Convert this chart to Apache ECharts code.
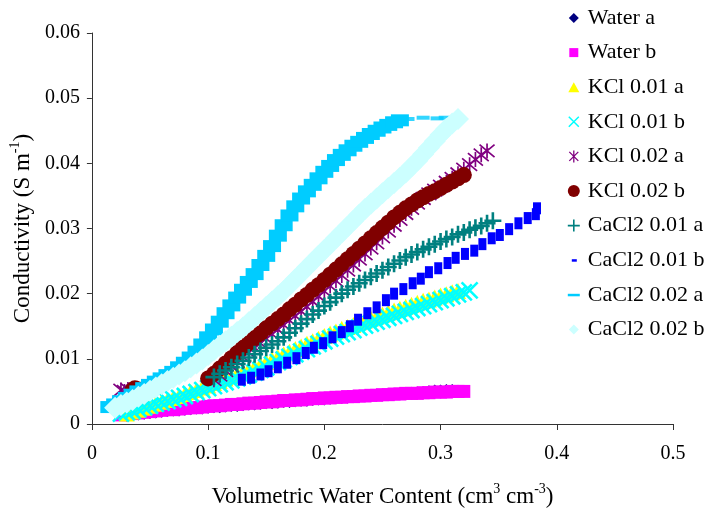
<!DOCTYPE html>
<html>
<head>
<meta charset="utf-8">
<script src="https://cdn.jsdelivr.net/npm/echarts@6/dist/echarts.min.js"></script>
<style>
  html, body { margin: 0; padding: 0; background: #fff; }
  #chart { width: 705px; height: 520px; }
</style>
</head>
<body>
<div id="chart"></div>
<script>
// Conductivity (S m-1) against volumetric water content, one array per solution/replicate.
const waterA = [
  [0.030,0.0012],[0.035,0.0013],[0.040,0.0014],[0.045,0.0015],[0.050,0.0016],[0.055,0.0017],
  [0.060,0.0018],[0.065,0.0019],[0.070,0.0020],[0.075,0.0020],[0.080,0.0021],[0.085,0.0022],
  [0.090,0.0023],[0.095,0.0023],[0.100,0.0024],[0.105,0.0025],[0.110,0.0025],[0.115,0.0026],
  [0.120,0.0027],[0.125,0.0027],[0.130,0.0028],[0.135,0.0029],[0.140,0.0029],[0.145,0.0030],
  [0.150,0.0031],[0.155,0.0031],[0.160,0.0032],[0.165,0.0033],[0.170,0.0033],[0.175,0.0034],
  [0.180,0.0035],[0.185,0.0035],[0.190,0.0036],[0.195,0.0037],[0.200,0.0037],[0.205,0.0038],
  [0.210,0.0039],[0.215,0.0039],[0.220,0.0040],[0.225,0.0041],[0.230,0.0041],[0.235,0.0042],
  [0.240,0.0043],[0.245,0.0043],[0.250,0.0044],[0.255,0.0045],[0.260,0.0045],[0.265,0.0046],
  [0.270,0.0047],[0.275,0.0048],[0.280,0.0049],[0.285,0.0050],[0.290,0.0051],[0.295,0.0052],
  [0.300,0.0052],[0.305,0.0053],[0.310,0.0053]
];
const waterB = [
  [0.025,0.0014],[0.030,0.0015],[0.035,0.0016],[0.040,0.0017],[0.045,0.0018],[0.050,0.0019],
  [0.055,0.0020],[0.060,0.0021],[0.065,0.0022],[0.070,0.0022],[0.075,0.0023],[0.080,0.0024],
  [0.085,0.0025],[0.090,0.0025],[0.095,0.0026],[0.100,0.0027],[0.105,0.0028],[0.110,0.0028],
  [0.115,0.0029],[0.120,0.0030],[0.125,0.0030],[0.130,0.0031],[0.135,0.0032],[0.140,0.0032],
  [0.145,0.0033],[0.150,0.0034],[0.155,0.0034],[0.160,0.0035],[0.165,0.0036],[0.170,0.0036],
  [0.175,0.0037],[0.180,0.0037],[0.185,0.0038],[0.190,0.0039],[0.195,0.0039],[0.200,0.0040],
  [0.205,0.0040],[0.210,0.0041],[0.215,0.0041],[0.220,0.0042],[0.225,0.0042],[0.230,0.0043],
  [0.235,0.0043],[0.240,0.0044],[0.245,0.0044],[0.250,0.0045],[0.255,0.0045],[0.260,0.0046],
  [0.265,0.0046],[0.270,0.0047],[0.275,0.0047],[0.280,0.0047],[0.285,0.0048],[0.290,0.0048],
  [0.295,0.0049],[0.300,0.0049],[0.305,0.0049],[0.310,0.0050],[0.315,0.0050],[0.320,0.0050]
];
const kcl001a = [
  [0.030,0.0016],[0.035,0.0019],[0.040,0.0022],[0.045,0.0025],[0.050,0.0028],[0.055,0.0031],
  [0.060,0.0034],[0.065,0.0037],[0.070,0.0040],[0.075,0.0043],[0.080,0.0046],[0.085,0.0049],
  [0.090,0.0052],[0.095,0.0056],[0.100,0.0059],[0.105,0.0063],[0.110,0.0066],[0.115,0.0070],
  [0.120,0.0073],[0.125,0.0077],[0.130,0.0080],[0.135,0.0084],[0.140,0.0087],[0.145,0.0091],
  [0.150,0.0095],[0.155,0.0099],[0.160,0.0103],[0.165,0.0107],[0.170,0.0111],[0.175,0.0115],
  [0.180,0.0119],[0.185,0.0123],[0.190,0.0127],[0.195,0.0131],[0.200,0.0135],[0.205,0.0139],
  [0.210,0.0142],[0.215,0.0146],[0.220,0.0149],[0.225,0.0152],[0.230,0.0156],[0.235,0.0159],
  [0.240,0.0162],[0.245,0.0165],[0.250,0.0168],[0.255,0.0171],[0.260,0.0174],[0.265,0.0177],
  [0.270,0.0180],[0.275,0.0183],[0.280,0.0186],[0.285,0.0189],[0.290,0.0191],[0.295,0.0194],
  [0.300,0.0197],[0.305,0.0199],[0.310,0.0202],[0.315,0.0204]
];
const kcl001b = [
  [0.025,0.0016],[0.030,0.0018],[0.035,0.0020],[0.040,0.0023],[0.045,0.0026],[0.050,0.0028],
  [0.055,0.0031],[0.060,0.0033],[0.065,0.0035],[0.070,0.0038],[0.075,0.0040],[0.080,0.0043],
  [0.085,0.0046],[0.090,0.0049],[0.095,0.0052],[0.100,0.0055],[0.105,0.0058],[0.110,0.0061],
  [0.115,0.0064],[0.120,0.0067],[0.125,0.0070],[0.130,0.0073],[0.135,0.0076],[0.140,0.0079],
  [0.145,0.0083],[0.150,0.0087],[0.155,0.0091],[0.160,0.0095],[0.165,0.0099],[0.170,0.0103],
  [0.175,0.0107],[0.180,0.0111],[0.185,0.0115],[0.190,0.0119],[0.195,0.0123],[0.200,0.0127],
  [0.205,0.0131],[0.210,0.0134],[0.215,0.0138],[0.220,0.0141],[0.225,0.0144],[0.230,0.0148],
  [0.235,0.0151],[0.240,0.0154],[0.245,0.0157],[0.250,0.0160],[0.255,0.0163],[0.260,0.0166],
  [0.265,0.0169],[0.270,0.0172],[0.275,0.0175],[0.280,0.0178],[0.285,0.0181],[0.290,0.0184],
  [0.295,0.0187],[0.300,0.0190],[0.305,0.0193],[0.310,0.0196],[0.315,0.0199],[0.320,0.0202],
  [0.325,0.0205]
];
const kcl002a = [
  [0.025,0.0052],[0.028,0.0050],[0.031,0.0053],
  [0.105,0.0068],[0.110,0.0075],[0.115,0.0082],[0.120,0.0089],[0.125,0.0096],[0.130,0.0103],
  [0.135,0.0110],[0.140,0.0117],[0.145,0.0124],[0.150,0.0131],[0.155,0.0138],[0.160,0.0145],
  [0.165,0.0152],[0.170,0.0159],[0.175,0.0166],[0.180,0.0173],[0.185,0.0180],[0.190,0.0188],
  [0.195,0.0196],[0.200,0.0204],[0.205,0.0212],[0.210,0.0220],[0.215,0.0228],[0.220,0.0236],
  [0.225,0.0244],[0.230,0.0253],[0.235,0.0261],[0.240,0.0270],[0.245,0.0278],[0.250,0.0287],
  [0.255,0.0296],[0.260,0.0305],[0.265,0.0314],[0.270,0.0323],[0.275,0.0331],[0.280,0.0339],
  [0.285,0.0346],[0.290,0.0353],[0.295,0.0359],[0.300,0.0365],[0.305,0.0371],[0.310,0.0377],
  [0.315,0.0384],[0.320,0.0391],[0.325,0.0398],[0.330,0.0406],[0.335,0.0413],[0.340,0.0419]
];
const kcl002b = [
  [0.035,0.0052],[0.037,0.0055],[0.040,0.0053],
  [0.100,0.0070],[0.105,0.0077],[0.110,0.0085],[0.115,0.0093],[0.120,0.0101],[0.125,0.0109],
  [0.130,0.0117],[0.135,0.0124],[0.140,0.0132],[0.145,0.0139],[0.150,0.0147],[0.155,0.0154],
  [0.160,0.0161],[0.165,0.0168],[0.170,0.0176],[0.175,0.0183],[0.180,0.0191],[0.185,0.0198],
  [0.190,0.0206],[0.195,0.0213],[0.200,0.0221],[0.205,0.0229],[0.210,0.0237],[0.215,0.0245],
  [0.220,0.0253],[0.225,0.0261],[0.230,0.0269],[0.235,0.0277],[0.240,0.0285],[0.245,0.0293],
  [0.250,0.0301],[0.255,0.0309],[0.260,0.0317],[0.265,0.0324],[0.270,0.0331],[0.275,0.0337],
  [0.280,0.0343],[0.285,0.0348],[0.290,0.0353],[0.295,0.0357],[0.300,0.0362],[0.305,0.0367],
  [0.310,0.0372],[0.315,0.0377],[0.320,0.0382]
];
const cacl2001a = [
  [0.105,0.0072],[0.110,0.0077],[0.115,0.0082],[0.120,0.0087],[0.125,0.0092],[0.130,0.0097],
  [0.135,0.0102],[0.140,0.0107],[0.145,0.0112],[0.150,0.0117],[0.155,0.0122],[0.160,0.0127],
  [0.165,0.0133],[0.170,0.0140],[0.175,0.0147],[0.180,0.0154],[0.185,0.0161],[0.190,0.0168],
  [0.195,0.0174],[0.200,0.0181],[0.205,0.0187],[0.210,0.0194],[0.215,0.0200],[0.220,0.0206],
  [0.225,0.0211],[0.230,0.0216],[0.235,0.0221],[0.240,0.0226],[0.245,0.0231],[0.250,0.0236],
  [0.255,0.0241],[0.260,0.0246],[0.265,0.0251],[0.270,0.0256],[0.275,0.0260],[0.280,0.0264],
  [0.285,0.0268],[0.290,0.0272],[0.295,0.0276],[0.300,0.0280],[0.305,0.0284],[0.310,0.0287],
  [0.315,0.0291],[0.320,0.0294],[0.325,0.0298],[0.330,0.0301],[0.335,0.0304],[0.340,0.0308],
  [0.345,0.0312]
];
const cacl2001b = [
  [0.129,0.0068],[0.137,0.0071],[0.145,0.0076],[0.152,0.0081],[0.160,0.0087],[0.168,0.0094],
  [0.176,0.0101],[0.184,0.0109],[0.191,0.0117],[0.199,0.0124],[0.207,0.0133],[0.215,0.0141],
  [0.222,0.0150],[0.229,0.0160],[0.237,0.0170],[0.245,0.0179],[0.253,0.0190],[0.260,0.0200],
  [0.268,0.0207],[0.276,0.0216],[0.283,0.0223],[0.290,0.0233],[0.298,0.0239],[0.306,0.0247],
  [0.313,0.0255],[0.321,0.0261],[0.329,0.0266],[0.336,0.0276],[0.344,0.0285],[0.351,0.0290],
  [0.359,0.0299],[0.367,0.0308],[0.375,0.0316],[0.382,0.0322],[0.383,0.0331]
];
const cacl2002a = [
  [0.015,0.0026],[0.020,0.0030],[0.025,0.0035],[0.030,0.0040],[0.035,0.0045],[0.040,0.0050],
  [0.045,0.0055],[0.050,0.0060],[0.055,0.0065],[0.060,0.0070],[0.065,0.0075],[0.070,0.0080],
  [0.075,0.0087],[0.080,0.0094],[0.085,0.0102],[0.090,0.0111],[0.095,0.0122],[0.100,0.0133],
  [0.105,0.0145],[0.110,0.0157],[0.115,0.0170],[0.120,0.0182],[0.125,0.0194],[0.130,0.0206],
  [0.135,0.0218],[0.140,0.0230],[0.145,0.0244],[0.150,0.0258],[0.155,0.0273],[0.160,0.0289],
  [0.165,0.0305],[0.170,0.0320],[0.175,0.0334],[0.180,0.0346],[0.185,0.0357],[0.190,0.0367],
  [0.195,0.0377],[0.200,0.0387],[0.205,0.0396],[0.210,0.0405],[0.215,0.0413],[0.220,0.0420],
  [0.225,0.0427],[0.230,0.0433],[0.235,0.0439],[0.240,0.0445],[0.245,0.0450],[0.250,0.0455],
  [0.255,0.0459],[0.260,0.0463],[0.265,0.0466]
];
// Sparse readings along the plateau, drawn as separate dashes
const cacl2002aTop = [
  [0.272,0.0468],[0.285,0.0470],[0.297,0.0469],[0.304,0.0470]
];
const cacl2002b = [
  [0.020,0.0025],[0.025,0.0029],[0.030,0.0033],[0.035,0.0037],[0.040,0.0042],[0.045,0.0046],
  [0.050,0.0051],[0.055,0.0056],[0.060,0.0061],[0.065,0.0066],[0.070,0.0071],[0.075,0.0076],
  [0.080,0.0081],[0.085,0.0087],[0.090,0.0093],[0.095,0.0099],[0.100,0.0106],[0.105,0.0113],
  [0.110,0.0120],[0.115,0.0127],[0.120,0.0134],[0.125,0.0141],[0.130,0.0148],[0.135,0.0156],
  [0.140,0.0164],[0.145,0.0172],[0.150,0.0180],[0.155,0.0188],[0.160,0.0196],[0.165,0.0204],
  [0.170,0.0213],[0.175,0.0222],[0.180,0.0231],[0.185,0.0240],[0.190,0.0249],[0.195,0.0258],
  [0.200,0.0267],[0.205,0.0276],[0.210,0.0285],[0.215,0.0294],[0.220,0.0303],[0.225,0.0312],
  [0.230,0.0321],[0.235,0.0330],[0.240,0.0338],[0.245,0.0346],[0.250,0.0354],[0.255,0.0362],
  [0.260,0.0370],[0.265,0.0378],[0.270,0.0386],[0.275,0.0395],[0.280,0.0404],[0.285,0.0414],
  [0.290,0.0424],[0.295,0.0434],[0.300,0.0444],[0.305,0.0453],[0.310,0.0461],[0.315,0.0468]
];

const seriesNames = ['Water a', 'Water b', 'KCl 0.01 a', 'KCl 0.01 b', 'KCl 0.02 a',
  'KCl 0.02 b', 'CaCl2 0.01 a', 'CaCl2 0.01 b', 'CaCl2 0.02 a', 'CaCl2 0.02 b'];
const seriesData = [waterA, waterB, kcl001a, kcl001b, kcl002a, kcl002b,
  cacl2001a, cacl2001b, cacl2002a, cacl2002b];
const xTicks = { min: 0, max: 0.5, step: 0.1 };
const yTicks = { min: 0, max: 0.06, step: 0.01 };

const FONT = "'Liberation Serif', 'Times New Roman', serif";

// Stroked marker outlines (x, asterisk, plus)
const SYM_X = 'path://M0,0L10,10M10,0L0,10';
const SYM_AST = 'path://M0,0L10,10M10,0L0,10M5,-1L5,11';
const SYM_PLUS = 'path://M5,0L5,10M0,5L10,5';

// Marker styles per series
const markers = [
  { color: '#000080', symbol: 'diamond', size: 11 },
  { color: '#FF00FF', symbol: 'rect', size: 13 },
  { color: '#FFFF00', symbol: 'triangle', size: 16 },
  { color: '#00FFFF', symbol: SYM_X, size: 16, stroke: 2.6 },
  { color: '#800080', symbol: SYM_AST, size: 15, stroke: 1.7 },
  { color: '#800000', symbol: 'circle', size: 16 },
  { color: '#008080', symbol: SYM_PLUS, size: 17, stroke: 2.6 },
  { color: '#0000FF', symbol: 'rect', size: [8, 12] },
  { color: '#00CCFF', symbol: 'rect', size: [18, 12] },
  { color: '#CCFFFF', symbol: 'diamond', size: 22 }
];

// Legend icons drawn in a fixed 12x12 frame so small dashes keep their proportions
const FRAME = 'path://M0,0M12,12';
const legendIcons = [
  FRAME + 'M6,1L11,6L6,11L1,6Z',
  FRAME + 'M1.5,1.5L10.5,1.5L10.5,10.5L1.5,10.5Z',
  FRAME + 'M6,1L11.5,11L0.5,11Z',
  FRAME + 'M1,1L11,11M11,1L1,11',
  FRAME + 'M1.5,1.5L10.5,10.5M10.5,1.5L1.5,10.5M6,0L6,12',
  'circle',
  FRAME + 'M6,0L6,12M0,6L12,6',
  FRAME + 'M4,5L9,5L9,7.5L4,7.5Z',
  FRAME + 'M0,5L12,5L12,7.5L0,7.5Z',
  FRAME + 'M6,1L11,6L6,11L1,6Z'
];
const legendStroke = [0, 0, 0, 1.5, 1.3, 0, 1.6, 0, 0, 0];

const series = seriesNames.map((name, i) => {
  const m = markers[i];
  const itemStyle = { color: m.color, opacity: 1 };
  if (m.stroke) {
    itemStyle.borderColor = m.color;
    itemStyle.borderWidth = m.stroke;
  }
  return {
    name,
    type: 'scatter',
    data: seriesData[i],
    symbol: m.symbol,
    symbolSize: m.size,
    itemStyle,
    emphasis: { disabled: true },
    z: 2 + i
  };
});
// plateau dashes of CaCl2 0.02 a share its legend entry
series.splice(9, 0, {
  name: 'CaCl2 0.02 a',
  type: 'scatter',
  data: cacl2002aTop,
  symbol: 'rect',
  symbolSize: [13, 4],
  itemStyle: { color: '#00CCFF' },
  emphasis: { disabled: true },
  z: 10
});

const chart = echarts.init(document.getElementById('chart'), null, { renderer: 'canvas' });
chart.setOption({
  animation: false,
  backgroundColor: '#ffffff',
  textStyle: { fontFamily: FONT, color: '#000' },
  grid: { left: 86, right: 32, top: 33, bottom: 96, containLabel: false },
  legend: {
    orient: 'vertical',
    left: 562,
    top: 2,
    itemWidth: 12,
    itemHeight: 12,
    itemGap: 12.6,
    selectedMode: false,
    textStyle: { fontFamily: FONT, fontSize: 22, color: '#000', padding: [0, 0, 0, 3] },
    data: seriesNames.map((name, i) => {
      const item = { name, icon: legendIcons[i] };
      if (legendStroke[i]) {
        item.itemStyle = { borderColor: markers[i].color, borderWidth: legendStroke[i] };
      }
      return item;
    })
  },
  xAxis: {
    type: 'value',
    min: xTicks.min, max: xTicks.max, interval: xTicks.step,
    name: '{t|Volumetric Water Content (cm}{s|3}{t| cm}{s|-3}{t|)}',
    nameLocation: 'middle',
    nameGap: 58,
    nameTextStyle: {
      rich: {
        t: { fontFamily: FONT, fontSize: 23, color: '#000', lineHeight: 26, verticalAlign: 'bottom' },
        s: { fontFamily: FONT, fontSize: 14, color: '#000', lineHeight: 26, verticalAlign: 'top' }
      }
    },
    axisLine: { show: true, onZero: false, lineStyle: { color: '#333', width: 1 } },
    axisTick: { show: true, inside: false, length: 6, lineStyle: { color: '#333' } },
    axisLabel: { fontFamily: FONT, fontSize: 20, color: '#000', margin: 20 },
    splitLine: { show: false }
  },
  yAxis: {
    type: 'value',
    min: yTicks.min, max: yTicks.max, interval: yTicks.step,
    name: '{t|Conductivity (S m}{s|-1}{t|)}',
    nameLocation: 'middle',
    nameGap: 36,
    nameRotate: 90,
    nameTextStyle: {
      rich: {
        t: { fontFamily: FONT, fontSize: 23, color: '#000', lineHeight: 26, verticalAlign: 'bottom' },
        s: { fontFamily: FONT, fontSize: 14, color: '#000', lineHeight: 26, verticalAlign: 'top' }
      }
    },
    axisLine: { show: true, onZero: false, lineStyle: { color: '#333', width: 1 } },
    axisTick: { show: true, inside: false, length: 5, lineStyle: { color: '#333' } },
    axisLabel: { fontFamily: FONT, fontSize: 20, color: '#000', margin: 12 },
    splitLine: { show: false }
  },
  series
});
</script>
</body>
</html>
